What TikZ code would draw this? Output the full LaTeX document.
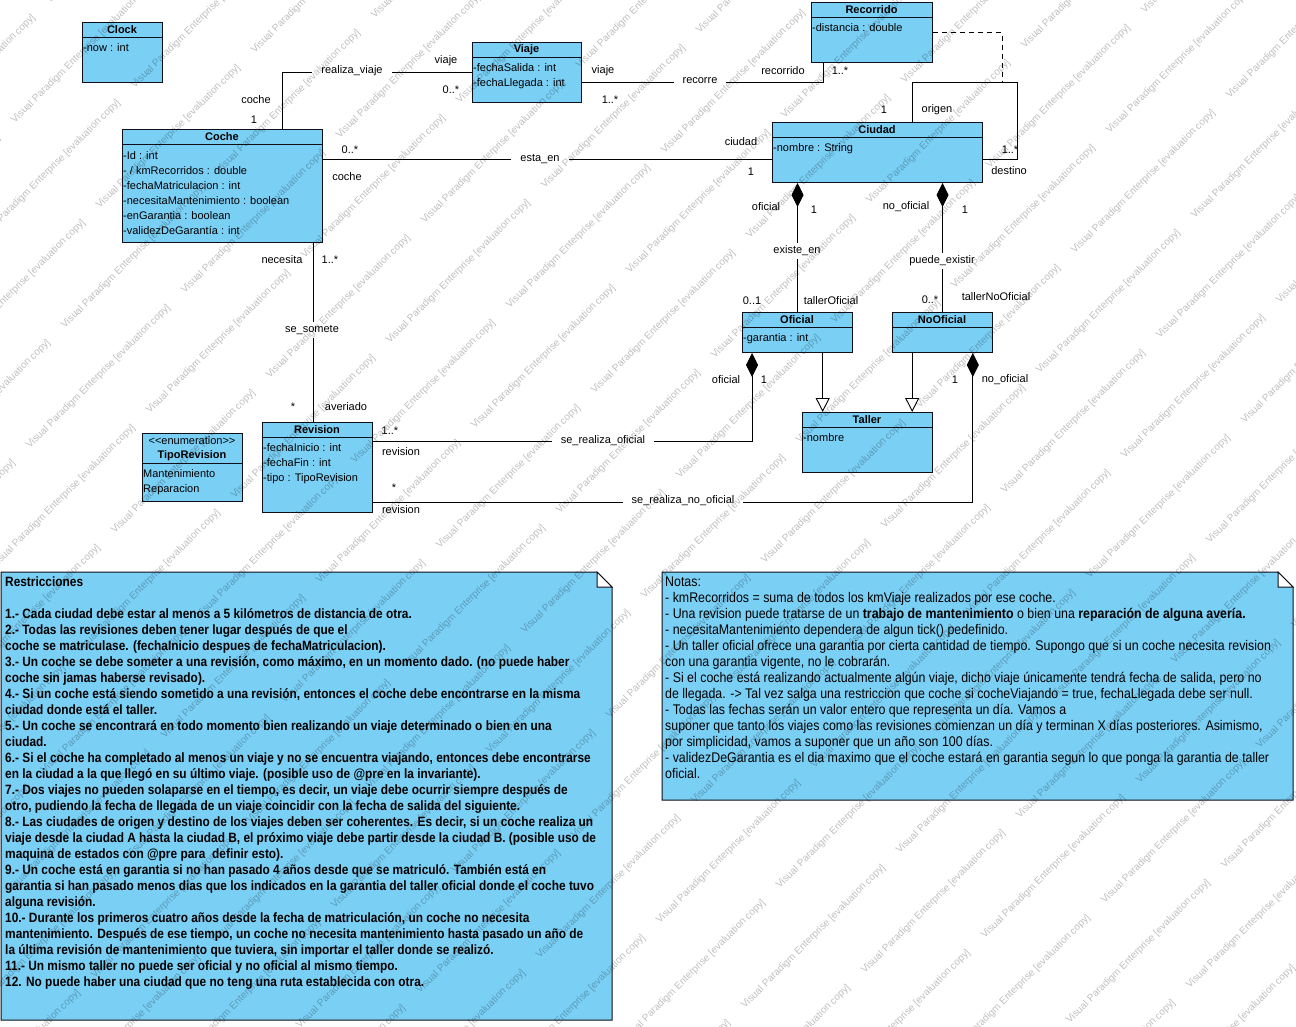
\documentclass[tikz,border=0pt]{standalone}
\usepackage{fontspec}
\setmainfont{Liberation Sans}
\newfontfamily\restrfont[FakeStretch=0.88]{Liberation Sans}
\newfontfamily\notasfont[FakeStretch=0.885]{Liberation Sans}
\usetikzlibrary{arrows.meta,calc}
\definecolor{umlfill}{RGB}{122,207,245}
\definecolor{umlline}{RGB}{15,15,25}

\tikzset{
  classbox/.style={draw=umlline, fill=umlfill, line width=1pt, inner sep=0pt, anchor=north west},
  ctitle/.style={font=\bfseries\fontsize{11}{13}\selectfont, inner sep=0pt},
  attr/.style={font=\fontsize{11}{13}\selectfont, inner sep=0pt, anchor=base west},
  lbl/.style={font=\fontsize{11}{13}\selectfont, inner sep=0pt},
  midlbl/.style={lbl, fill=white, inner xsep=9pt, inner ysep=3pt},
  assoc/.style={draw=black, line width=0.9pt},
  compo/.style={assoc, -{Diamond[length=24pt, width=12pt, fill=black]}},
  gener/.style={assoc, -{Triangle[open, length=14pt, width=14pt, fill=white]}},
  acdash/.style={assoc, dash pattern=on 5pt off 4pt},
  notebox/.style={draw=umlline, fill=umlfill, line width=1pt},
  stamp/.style={font=\fontsize{10}{12}\selectfont, text=black, text opacity=0.25,
                inner sep=0pt, anchor=west, rotate=45},
}

% class box: name, x1, y1, x2, y2, separator y, title
\newcommand\umlclass[7]{%
  \node[classbox, minimum width={(#4-#2)*1pt}, minimum height={(#5-#3)*1pt}] (#1) at (#2,#3) {};
  \draw[umlline, line width=1pt] (#2,#6) -- (#4,#6);
  \node[ctitle] (#1-title) at ({(#2+#4)/2},{(#3+#6)/2+0.5}) {#7};
}
% attribute lines: name, x, first baseline, list
\newcommand\umlattrs[4]{%
  \foreach \a [count=\i] in {#4} {\node[attr] (#1-a\i) at (#2,{#3+15*(\i-1)}) {\a};}
}

\begin{document}
\begin{tikzpicture}[x=1pt,y=-1pt]
\fill[white] (0,0) rectangle (1296,1026);
\useasboundingbox (0,0) rectangle (1296,1026);

% ---------- classes ----------
\umlclass{clock}{82}{22}{162}{82}{37}{Clock}
\umlattrs{clock}{83}{51}{-now : int}
\umlclass{coche}{122}{129}{322}{242}{144}{Coche}
\umlattrs{coche}{123}{159}{-Id : int, - / kmRecorridos : double, -fechaMatriculacion : int, -necesitaMantenimiento : boolean, -enGarantia : boolean, -validezDeGarantía : int}
\umlclass{viaje}{472}{42}{581}{102}{57}{Viaje}
\umlattrs{viaje}{473}{71}{-fechaSalida : int, -fechaLlegada : int}
\umlclass{recorrido}{811}{2}{932}{62}{17}{Recorrido}
\umlattrs{recorrido}{812}{31}{-distancia : double}
\umlclass{ciudad}{772}{122}{982}{182}{137}{Ciudad}
\umlattrs{ciudad}{773}{151}{-nombre : String}
\umlclass{oficial}{742}{312}{852}{352}{327}{Oficial}
\umlattrs{oficial}{743}{341}{-garantia : int}
\umlclass{nooficial}{892}{312}{992}{352}{327}{NoOficial}
\umlclass{taller}{802}{412}{932}{472}{427}{Taller}
\umlattrs{taller}{803}{441}{-nombre}
\umlclass{revision}{262}{422}{372}{512}{437}{Revision}
\umlattrs{revision}{263}{451}{-fechaInicio : int, -fechaFin : int, -tipo : TipoRevision}

% enumeration
\node[classbox, minimum width=100pt, minimum height=68pt] (tiporevision) at (142,433) {};
\draw[umlline, line width=1pt] (142,463) -- (242,463);
\node[lbl] (tiporevision-st) at (192,441) {<\kern0pt<enumeration>\kern0pt>};
\node[ctitle] (tiporevision-title) at (192,456) {TipoRevision};
\umlattrs{tiporevision}{143}{477}{Mantenimiento, Reparacion}

% ---------- connectors ----------
\draw[assoc] ($(coche.north west)!0.8!(coche.north east)$) |- (viaje.west);
\draw[assoc] ($(viaje.south east)!0.333!(viaje.north east)$) -| ($(recorrido.south west)!0.1!(recorrido.south east)$);
\draw[assoc] ($(coche.north east)!0.2655!(coche.south east)$) coordinate (estaA) -- (estaA -| ciudad.west);
\draw[assoc] ($(coche.south west)!0.95!(coche.south east)$) coordinate (someA) -- (someA |- revision.north);
\coordinate (selfTR) at (1017,82);
\draw[assoc] ($(ciudad.north west)!0.6667!(ciudad.north east)$) |- (selfTR) |- ($(ciudad.north east)!0.617!(ciudad.south east)$);
\coordinate (acFoot) at (1002,82);
\draw[acdash] (recorrido.east) -| (acFoot);
\draw[compo] (oficial.north) -- (oficial.north |- ciudad.south);
\draw[compo] (nooficial.north) -- (nooficial.north |- ciudad.south);
\draw[compo] ($(revision.north east)!0.211!(revision.south east)$) -| ($(oficial.south west)!0.0909!(oficial.south east)$);
\draw[compo] ($(revision.north east)!0.889!(revision.south east)$) -| ($(nooficial.south west)!0.8!(nooficial.south east)$);
\draw[gener] ($(oficial.south west)!0.727!(oficial.south east)$) coordinate (genA) -- (genA |- taller.north);
\draw[gener] ($(nooficial.south west)!0.2!(nooficial.south east)$) coordinate (genB) -- (genB |- taller.north);

% ---------- association names ----------
\node[midlbl] (n-realiza) at (352,71) {realiza\_viaje};
\node[midlbl] (n-recorre) at (700,81) {recorre};
\node[midlbl] (n-estaen) at (540,159) {esta\_en};
\node[midlbl] (n-existe) at (797,251) {existe\_en};
\node[midlbl] (n-puede) at (942,261) {puede\_existir};
\node[midlbl] (n-somete) at (312,330) {se\_somete};
\node[midlbl] (n-srof) at (603,441) {se\_realiza\_oficial};
\node[midlbl] (n-srnof) at (683,501) {se\_realiza\_no\_oficial};

% ---------- role names and multiplicities ----------
\node[lbl] (r1) at (256,100) {coche};
\node[lbl] (m1) at (254,120) {1};
\node[lbl] (r2) at (446,61) {viaje};
\node[lbl] (m2) at (451,90) {0..*};
\node[lbl] (r3) at (603,71) {viaje};
\node[lbl] (m3) at (610,100) {1..*};
\node[lbl] (r4) at (783,71) {recorrido};
\node[lbl] (m4) at (840,71) {1..*};
\node[lbl] (m5) at (350,150) {0..*};
\node[lbl] (r5) at (347,177) {coche};
\node[lbl] (r6) at (741,142) {ciudad};
\node[lbl] (m6) at (751,172) {1};
\node[lbl] (r7) at (937,110) {origen};
\node[lbl] (m7) at (884,110) {1};
\node[lbl] (m8) at (1010,150) {1..*};
\node[lbl] (r8) at (1009,171) {destino};
\node[lbl] (r9) at (766,207) {oficial};
\node[lbl] (m9) at (814,210) {1};
\node[lbl] (r10) at (906,207) {no\_oficial};
\node[lbl] (m10) at (965,210) {1};
\node[lbl] (m11) at (752,301) {0..1};
\node[lbl] (r11) at (831,301) {tallerOficial};
\node[lbl] (m12) at (930,300) {0..*};
\node[lbl] (r12) at (996,297) {tallerNoOficial};
\node[lbl] (r13) at (282,260) {necesita};
\node[lbl] (m13) at (330,260) {1..*};
\node[lbl] (m14) at (293,407) {*};
\node[lbl] (r14) at (346,407) {averiado};
\node[lbl] (m15) at (390,431) {1..*};
\node[lbl] (r15) at (401,452) {revision};
\node[lbl] (r16) at (726,380) {oficial};
\node[lbl] (m16) at (764,380) {1};
\node[lbl] (m17) at (394,488) {*};
\node[lbl] (r17) at (401,510) {revision};
\node[lbl] (m18) at (955,380) {1};
\node[lbl] (r18) at (1005,380) {no\_oficial};

% ---------- notes ----------
\draw[notebox] (1,572) -- (597,572) -- (612,587) -- (612,1020) -- (1,1020) -- cycle;
\draw[notebox, fill=white] (597,572) -- (612,587) -- (597,587) -- cycle;
\node[anchor=north west, inner sep=0pt, align=left,
      font=\restrfont\bfseries\fontsize{13.5}{16}\selectfont] (restricciones) at (5,577) {%
Restricciones\\[16pt]
1.- Cada ciudad debe estar al menos a 5 kilómetros de distancia de otra.\\
2.- Todas las revisiones deben tener lugar después de que el\\
coche se matriculase. (fechaInicio despues de fechaMatriculacion).\\
3.- Un coche se debe someter a una revisión, como máximo, en un momento dado. (no puede haber\\
coche sin jamas haberse revisado).\\
4.- Si un coche está siendo sometido a una revisión, entonces el coche debe encontrarse en la misma\\
ciudad donde está el taller.\\
5.- Un coche se encontrará en todo momento bien realizando un viaje determinado o bien en una\\
ciudad.\\
6.- Si el coche ha completado al menos un viaje y no se encuentra viajando, entonces debe encontrarse\\
en la ciudad a la que llegó en su último viaje. (posible uso de @pre en la invariante).\\
7.- Dos viajes no pueden solaparse en el tiempo, es decir, un viaje debe ocurrir siempre después de\\
otro, pudiendo la fecha de llegada de un viaje coincidir con la fecha de salida del siguiente.\\
8.- Las ciudades de origen y destino de los viajes deben ser coherentes. Es decir, si un coche realiza un\\
viaje desde la ciudad A hasta la ciudad B, el próximo viaje debe partir desde la ciudad B. (posible uso de\\
maquina de estados con @pre para\ \ definir esto).\\
9.- Un coche está en garantia si no han pasado 4 años desde que se matriculó. También está en\\
garantia si han pasado menos dias que los indicados en la garantia del taller oficial donde el coche tuvo\\
alguna revisión.\\
10.- Durante los primeros cuatro años desde la fecha de matriculación, un coche no necesita\\
mantenimiento. Después de ese tiempo, un coche no necesita mantenimiento hasta pasado un año de\\
la última revisión de mantenimiento que tuviera, sin importar el taller donde se realizó.\\
11.- Un mismo taller no puede ser oficial y no oficial al mismo tiempo.\\
12. No puede haber una ciudad que no teng una ruta establecida con otra.};

\draw[notebox] (662,572) -- (1278,572) -- (1293,587) -- (1293,800) -- (662,800) -- cycle;
\draw[notebox, fill=white] (1278,572) -- (1293,587) -- (1278,587) -- cycle;
\node[anchor=north west, inner sep=0pt, align=left,
      font=\notasfont\fontsize{14}{16}\selectfont] (notas) at (665,577) {%
Notas:\\
- kmRecorridos = suma de todos los kmViaje realizados por ese coche.\\
- Una revision puede tratarse de un \textbf{trabajo de mantenimiento} o bien una \textbf{reparación de alguna avería.}\\
- necesitaMantenimiento dependera de algun tick() pedefinido.\\
- Un taller oficial ofrece una garantia por cierta cantidad de tiempo. Supongo que si un coche necesita revision\\
con una garantia vigente, no le cobrarán.\\
- Si el coche está realizando actualmente algún viaje, dicho viaje únicamente tendrá fecha de salida, pero no\\
de llegada. -\kern0pt> Tal vez salga una restriccion que coche si cocheViajando = true, fechaLlegada debe ser null.\\
- Todas las fechas serán un valor entero que representa un día. Vamos a\\
suponer que tanto los viajes como las revisiones comienzan un día y terminan X días posteriores. Asimismo,\\
por simplicidad, vamos a suponer que un año son 100 días.\\
- validezDeGarantia es el dia maximo que el coche estará en garantia segun lo que ponga la garantia de taller\\
oficial.};

% ---------- evaluation stamp tiled over the sheet ----------
\begin{scope}
\clip (0,0) rectangle (1296,1026);
\foreach \p in {-5,...,15} {
  \foreach \q in {-5,...,12} {
    \pgfmathsetmacro\sx{63+120*\p-35*\q}
    \pgfmathsetmacro\sy{327-35*\p+120*\q}
    \pgfmathtruncatemacro\vis{and(and(\sx>-145,\sx<1296),and(\sy>0,\sy<1171))}
    \ifnum\vis=1
      \node[stamp] (stamp-\p-\q) at (\sx,\sy) {Visual Paradigm Enterprise [evaluation copy]};
    \fi
  }
}
\end{scope}
\end{tikzpicture}
\end{document}
